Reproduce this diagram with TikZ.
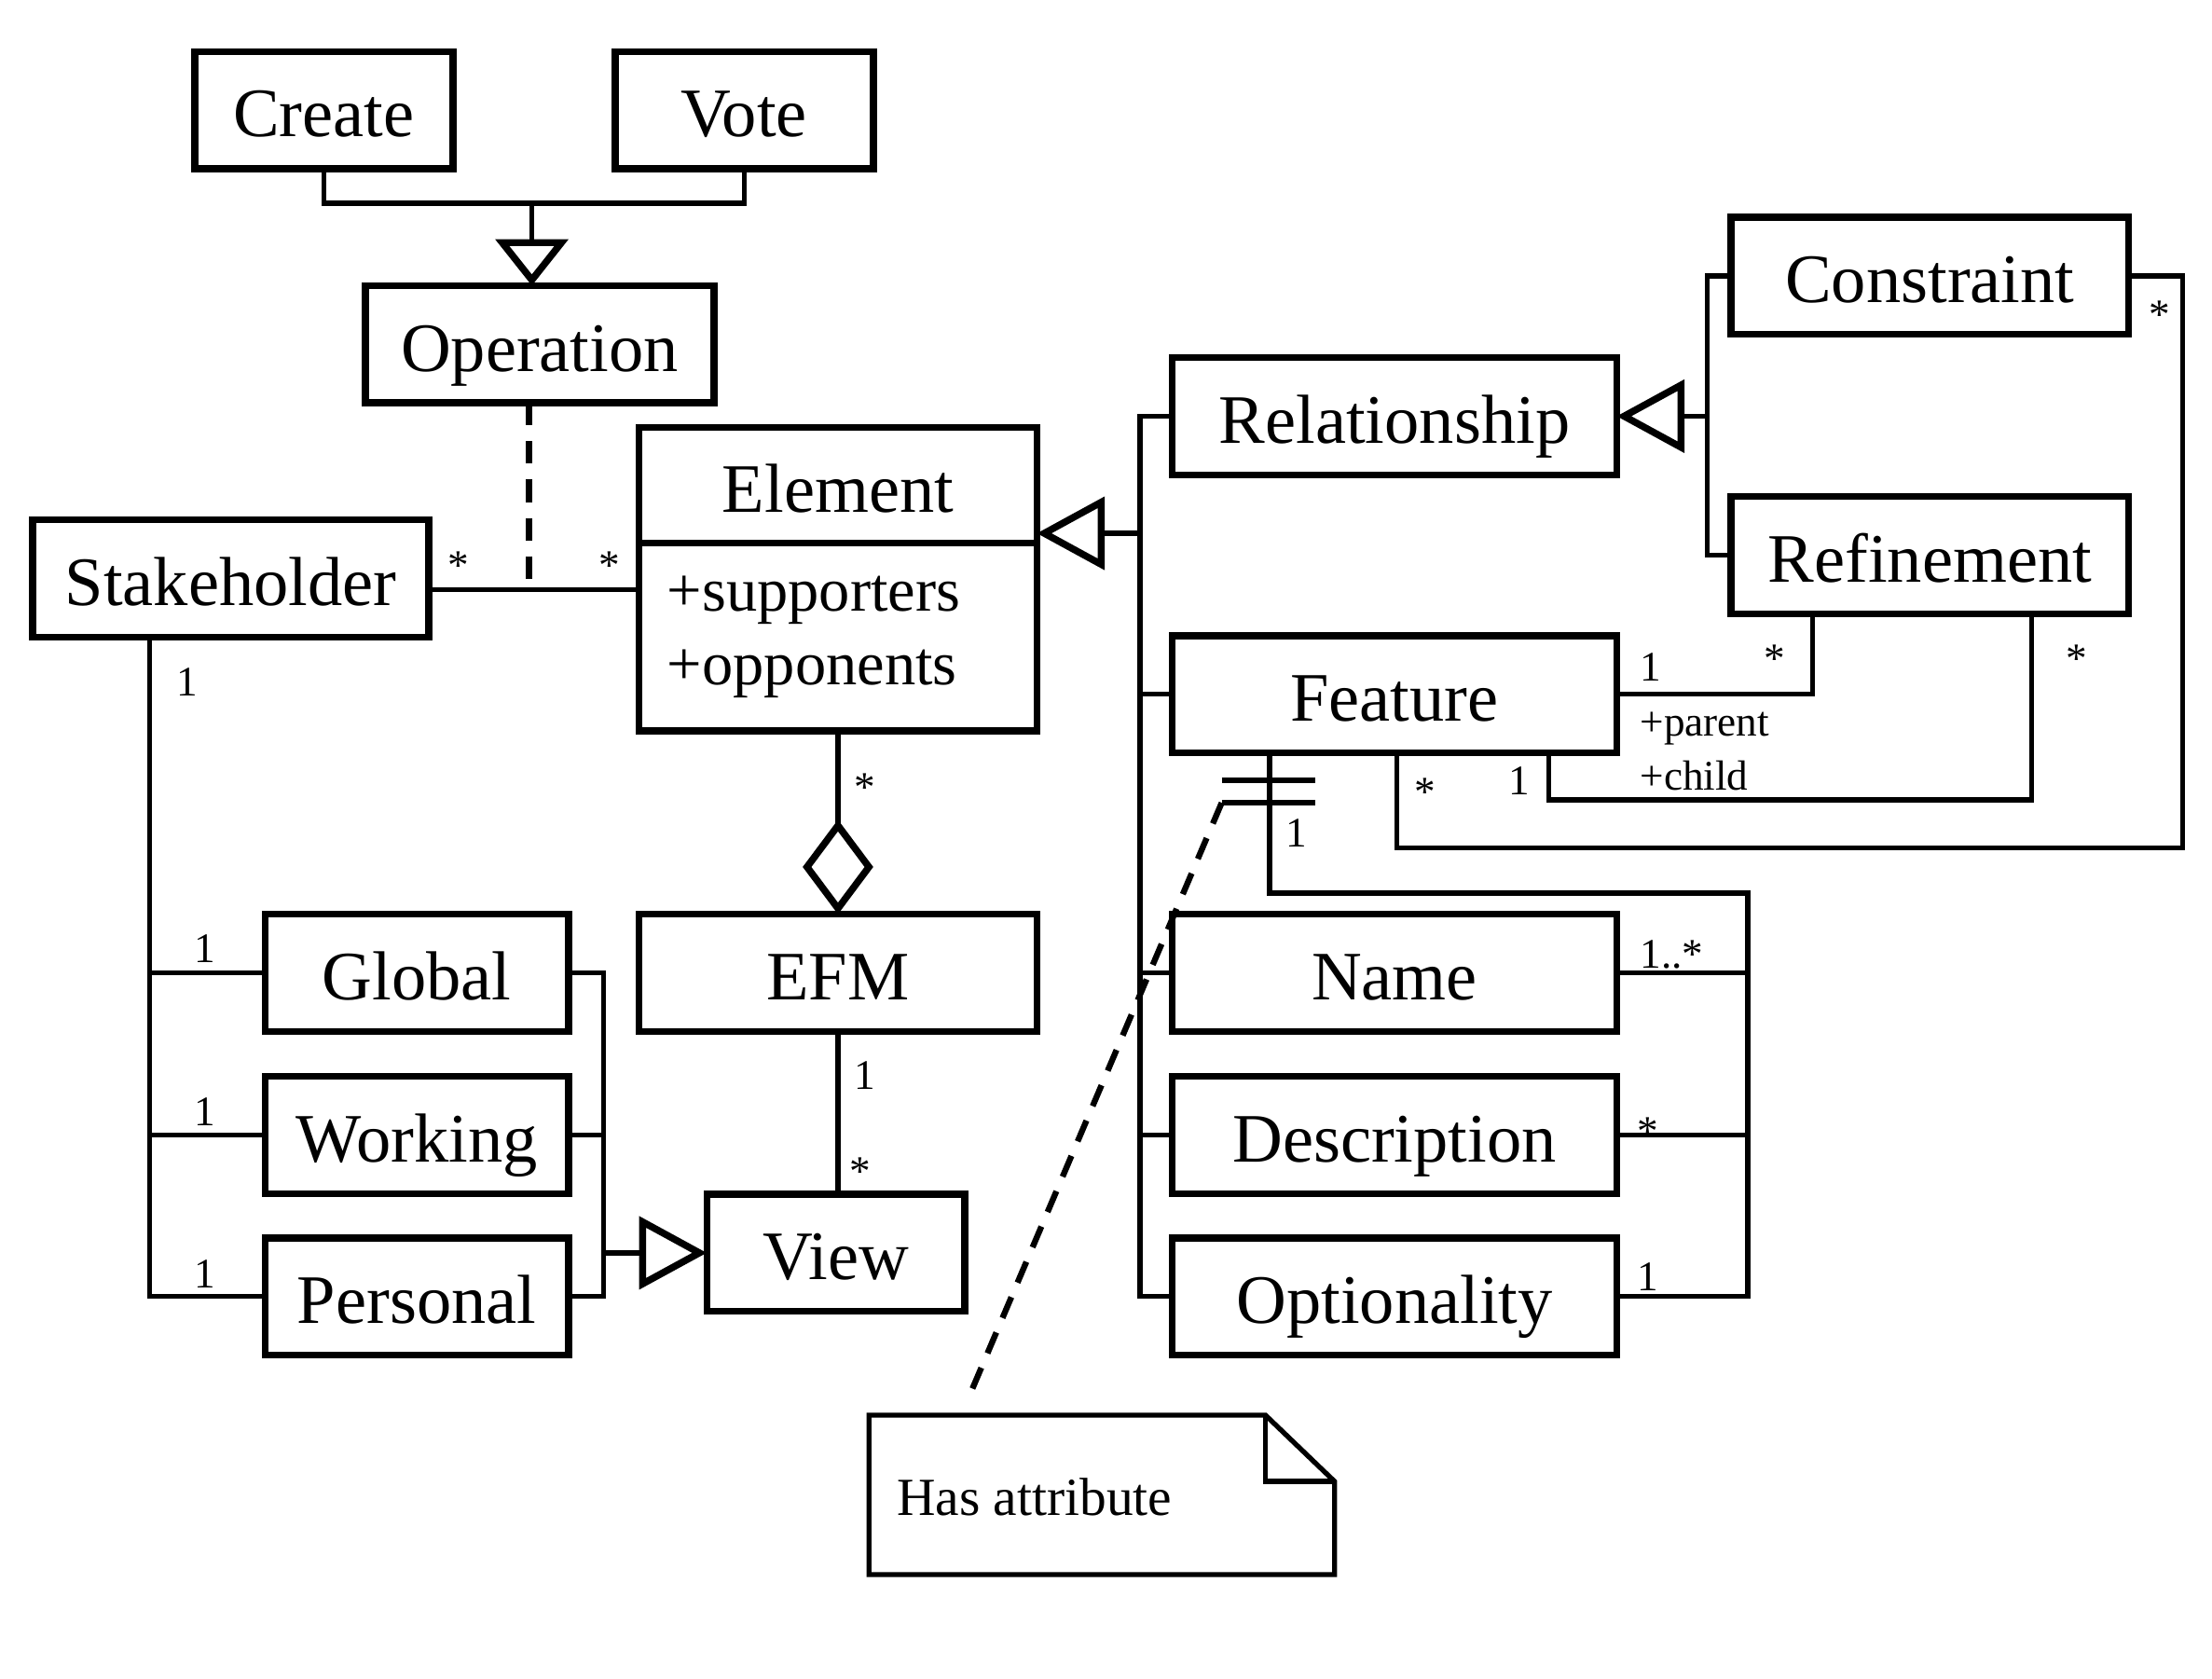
\documentclass[tikz,border=0pt]{standalone}
\usepackage{fontspec}
\setmainfont{Liberation Serif}
\usetikzlibrary{arrows.meta,positioning}

\begin{document}
\begin{tikzpicture}[
  umlbox/.style={draw, line width=1.4pt, minimum height=0.83cm, inner sep=0pt, outer sep=0pt, font=\fontsize{14}{15}\selectfont},
  classbox/.style={umlbox, text height=0.38cm, text depth=0pt},
  conn/.style={line width=1pt},
  gen/.style={-{Triangle[open, length=4.8mm, width=5.1mm, line width=1.4pt]}},
  opgen/.style={-{Triangle[open, length=3.3mm, width=5.1mm, line width=1.4pt]}},
  agg/.style={-{Diamond[open, length=6.7mm, width=5mm, line width=1.4pt]}},
  mult/.style={font=\fontsize{8.5}{10}\selectfont, inner sep=0pt, anchor=base},
  umldash/.style={line width=1.2pt, dash pattern=on 1.6mm off 1.12mm}]
\useasboundingbox (0,0) rectangle (15.68,-11.90);

\node[classbox, minimum width=1.83cm] (create) at (2.295,-0.78) {Create};
\node[classbox, minimum width=1.83cm] (vote) at (5.275,-0.78) {Vote};
\node[classbox, minimum width=2.47cm] (op) at (3.825,-2.44) {Operation};
\node[classbox, minimum width=2.81cm] (stake) at (1.635,-4.10) {Stakeholder};
\node[classbox, minimum width=2.82cm, minimum height=0.82cm] (elem) at (5.94,-3.44) {Element};
\node[umlbox, minimum width=2.82cm, minimum height=1.33cm, below=0pt of elem, text width=2.42cm, inner xsep=0.2cm, align=left, font=\fontsize{12.5}{15}\selectfont] (elemattr) {+supporters\\+opponents};
\node[classbox, minimum width=2.82cm] (efm) at (5.94,-6.895) {EFM};
\node[classbox, minimum width=1.83cm] (view) at (5.925,-8.88) {View};
\node[classbox, minimum width=2.15cm] (global) at (2.955,-6.895) {Global};
\node[classbox, minimum width=2.15cm] (working) at (2.955,-8.045) {Working};
\node[classbox, minimum width=2.15cm] (personal) at (2.955,-9.19) {Personal};
\node[classbox, minimum width=3.15cm] (rel) at (9.885,-2.95) {Relationship};
\node[classbox, minimum width=3.15cm] (feat) at (9.885,-4.92) {Feature};
\node[classbox, minimum width=3.15cm] (name) at (9.885,-6.895) {Name};
\node[classbox, minimum width=3.15cm] (desc) at (9.885,-8.045) {Description};
\node[classbox, minimum width=3.15cm] (opt) at (9.885,-9.19) {Optionality};
\node[classbox, minimum width=2.82cm] (con) at (13.68,-1.955) {Constraint};
\node[classbox, minimum width=2.82cm] (ref) at (13.68,-3.935) {Refinement};

\coordinate (cvjoin) at (3.77,-1.44);
\draw[conn] (create.south) |- (cvjoin) -| (vote.south);
\draw[conn, opgen] (cvjoin) -- (cvjoin |- op.north);

\coordinate (assoc) at (3.75,-4.18);
\coordinate (assocdash) at (3.75,-4.13);
\draw[umldash] (assocdash |- op.south) -- (assocdash);
\draw[conn] (assoc -| stake.east) -- (assoc -| elemattr.west);
\node[mult] (m1) at (3.25,-4.11) {*};
\node[mult] (m2) at (4.32,-4.11) {*};

\coordinate (stkbus) at (1.06,0);
\draw[conn] (stkbus |- stake.south) |- (personal.west);
\draw[conn] (stkbus |- global.west) -- (global.west);
\draw[conn] (stkbus |- working.west) -- (working.west);
\node[mult] (m3) at (1.33,-4.93) {1};
\node[mult] (m4) at (1.45,-6.82) {1};
\node[mult] (m5) at (1.45,-7.98) {1};
\node[mult] (m6) at (1.45,-9.13) {1};

\coordinate (vbus) at (4.28,0);
\draw[conn] (global.east) -| (vbus |- personal.east) -- (personal.east);
\draw[conn] (working.east) -- (working.east -| vbus);
\draw[conn, gen] (vbus |- view.west) -- (view.west);

\draw[conn, agg] (elemattr.south) -- (efm.north);
\draw[conn] (efm.south) -- (efm.south |- view.north);
\node[mult] (m7) at (6.13,-5.68) {*};
\node[mult] (m8) at (6.13,-7.72) {1};
\node[mult] (m9) at (6.10,-8.40) {*};

\coordinate (rbus) at (8.08,-3.78);
\draw[conn, gen] (rbus) -- (rbus -| elem.east);
\draw[conn] (rel.west) -| (rbus |- opt.west) -- (opt.west);
\foreach \n in {feat,name,desc}
  \draw[conn] (\n.west) -- (\n.west -| rbus);

\coordinate (rsub) at (12.10,0);
\draw[conn] (con.west) -| (rsub |- ref.west) -- (ref.west);
\draw[conn, gen] (rsub |- rel.east) -- (rel.east);

\coordinate (parentx) at (12.85,0);
\draw[conn] (parentx |- ref.south) |- (feat.east);
\node[mult] (m10) at (11.70,-4.83) {1};
\node[mult] (m11) at (12.58,-4.77) {*};
\node[mult, anchor=base west] (parent) at (11.62,-5.22) {+parent};

\coordinate (childa) at (14.40,-5.67);
\coordinate (childb) at (10.98,-5.67);
\draw[conn] (childa |- ref.south) -- (childa) -- (childb) -- (childb |- feat.south);
\node[mult] (m12) at (14.72,-4.77) {*};
\node[mult] (m13) at (10.77,-5.63) {1};
\node[mult, anchor=base west] (child) at (11.62,-5.60) {+child};

\coordinate (cona) at (15.47,-6.01);
\coordinate (conb) at (9.90,-6.01);
\draw[conn] (con.east) -| (cona) -- (conb) -- (conb |- feat.south);
\node[mult] (m14) at (15.31,-2.33) {*};
\node[mult] (m15) at (10.10,-5.71) {*};

\coordinate (attra) at (9.00,-6.33);
\coordinate (attrb) at (12.39,-6.33);
\draw[conn] (attra |- feat.south) -- (attra) -- (attrb) |- (opt.east);
\draw[conn] (name.east) -- (name.east -| attrb);
\draw[conn] (desc.east) -- (desc.east -| attrb);
\coordinate (barl) at (8.66,-5.69);
\draw[conn] (8.66,-5.53) -- (9.32,-5.53);
\draw[conn] (barl) -- (9.32,-5.69);
\node[mult] (m16) at (9.19,-6.00) {1};
\node[mult] (m17) at (11.85,-6.86) {1..*};
\node[mult] (m18) at (11.68,-8.12) {*};
\node[mult] (m19) at (11.68,-9.15) {1};

\draw[conn] (6.16,-10.03) -- (8.97,-10.03) -- (9.46,-10.50) -- (9.46,-11.16) -- (6.16,-11.16) -- cycle;
\draw[conn] (8.97,-10.03) -- (8.97,-10.50) -- (9.46,-10.50);
\node[anchor=west, font=\fontsize{10.8}{12}\selectfont, inner sep=0pt] (hasattr) at (6.35,-10.61) {Has attribute};
\coordinate (noteend) at (6.86,-9.92);
\draw[umldash] (barl) -- (noteend);
\end{tikzpicture}
\end{document}
